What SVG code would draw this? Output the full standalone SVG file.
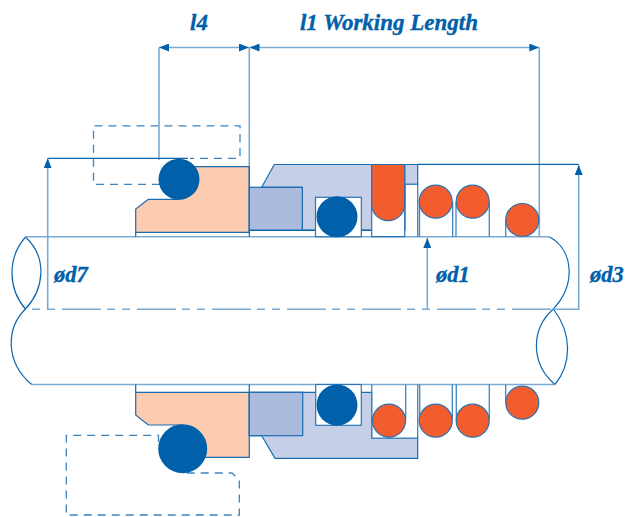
<svg xmlns="http://www.w3.org/2000/svg" width="627" height="517" viewBox="0 0 627 517">
<style>
.d{fill:none;stroke:#0f66ad;stroke-width:1.2}
.l{fill:none;stroke:#7baad3;stroke-width:1.6}
.m{fill:none;stroke:#3f86c0;stroke-width:1.3}
.ds{fill:none;stroke:#3b84c0;stroke-width:1.3;stroke-dasharray:8 6}
.peach{fill:#fdcbb0;stroke:#1a6cb0;stroke-width:1.2}
.mid{fill:#abbbdd;stroke:#1a6cb0;stroke-width:1.2}
.pale{fill:#c5cfe8;stroke:#1a6cb0;stroke-width:1.2}
.or{fill:#f35c2d;stroke:#2f6fae;stroke-width:1.2}
.bl{fill:#0060a9}
.box{fill:#fff;stroke:#2a76b6;stroke-width:1.2}
.t{font-family:"Liberation Serif",serif;font-weight:bold;font-style:italic;fill:#0060a9;stroke:#0060a9;stroke-width:.35}
</style>
<defs>
<marker id="a" viewBox="0 0 10 8" refX="10" refY="4" markerWidth="10" markerHeight="8" markerUnits="userSpaceOnUse" orient="auto-start-reverse"><path d="M0 0L10 4L0 8Z" fill="#0060a9"/></marker>
</defs>
<g id="shaft">
<path class="d" d="M25.5 237C7 258 8 289 25.5 309C44 289 48 258 25.5 237Z"/>
<path class="d" d="M25.5 309C6 328 5 362 31.7 384.5"/>
<path class="d" d="M549.3 236.7C574 250 576 285 553.3 309C530 330 531 364 555 384.5C572 364 572 333 553.3 309"/>
<path class="l" d="M25.5 236.7H549.3M31.7 384.5H555"/>
<path class="l" d="M29 309.3H553" stroke-dasharray="39 6 8 7 8 7" stroke-dashoffset="42"/>
</g>
<g id="dashed-seat-top"><path class="ds" d="M160 184.3H93.5V125.8H240V158.3H190"/></g>
<g id="dashed-seat-bottom"><path class="ds" d="M158.5 442V435.3H66.3V515H239.3V480L232 473H183"/></g>
<g id="seat-top">
<path class="peach" d="M135.7 232.3V209L148.3 199.3H179V166.7H249.3V232.3Z"/>
<path class="d" d="M135.7 232.3V236.7M249.3 166.7V236.7"/>
</g>
<g id="seat-bottom">
<path class="peach" d="M135.7 392.3V415L148.3 425H182V457.3H249.3V392.3Z"/>
<path class="d" d="M135.7 384.5V392.3M249.3 384.5V392.3"/>
</g>
<g id="oring-seat-top"><circle class="bl" cx="179" cy="179.3" r="20.5"/></g>
<g id="oring-seat-bottom"><circle class="bl" cx="182.7" cy="448.7" r="24.5"/></g>
<g id="head-top">
<path class="pale" d="M261.7 187.3L274.3 164.5H417.7V184.3H405V230H302.3V187.3Z"/>
<rect class="mid" x="249.3" y="187.3" width="53" height="43"/>
<path class="d" d="M249.3 230.3H371.7"/>
<rect class="box" x="315.5" y="197.3" width="45.8" height="39.4"/>
<circle class="bl" cx="337" cy="216.7" r="20.5"/>
</g>
<g id="head-bottom">
<path class="pale" d="M261.7 435.7L275 458.3H417.7V438.3H371.7V392.3H249.3V435.7Z"/>
<rect class="mid" x="249.3" y="392.3" width="53.4" height="43.4"/>
<rect class="box" x="315.7" y="384.5" width="45.6" height="40.8"/>
<circle class="bl" cx="337" cy="405" r="20.5"/>
</g>
<g id="face-top">
<path class="box" d="M371.7 165V236.7H404.7V165Z"/>
<path class="or" d="M371.7 164.5H404.7V204.2A16.5 16.5 0 0 1 371.7 204.2Z"/>
<path class="m" d="M405 184.3H417.7V236.7M419.5 200V236.7"/>
</g>
<g id="face-bottom">
<path class="m" d="M371.7 384.5V438.3H417.7V384.5M405.7 384.5V420M419.7 384.5V420"/>
<circle class="or" cx="389" cy="420.7" r="16.5"/>
</g>
<g id="spring-top">
<path class="m" d="M452.7 202V236.7M456 202V236.7M489.3 202V236.7M505.7 220V236.7"/>
<circle class="or" cx="435.7" cy="201.7" r="16.5"/>
<circle class="or" cx="472.7" cy="201.7" r="16.5"/>
</g>
<g id="spring-bottom">
<path class="m" d="M452.3 384.5V420M456.3 384.5V420M489.3 384.5V420M505.7 384.5V402"/>
<circle class="or" cx="435.7" cy="420.7" r="16.5"/>
<circle class="or" cx="472.7" cy="420.7" r="16.5"/>
<circle class="or" cx="522.3" cy="402.7" r="16.5"/>
</g>
<g id="connectors">
<path class="l" d="M159 47.5V160M249.3 47.5V166M539.3 47.5V236.7"/>
<path class="l" d="M159 47.5H249" marker-start="url(#a)" marker-end="url(#a)"/>
<path class="l" d="M249.5 47.5H539.3" marker-start="url(#a)" marker-end="url(#a)"/>
<path class="d" d="M47.7 158.3H188"/>
<path class="l" d="M47.7 309V158.3" marker-end="url(#a)"/>
<path class="l" d="M427.3 309V238" marker-end="url(#a)"/>
<path class="d" d="M417.7 164.3H578.7"/>
<path class="l" d="M553 309.3H578.7V165" marker-end="url(#a)"/>
</g>
<g id="spring-top-last"><circle class="or" cx="522.3" cy="220" r="16.5"/></g>
<g id="labels">
<text class="t" x="199" y="30" font-size="23" text-anchor="middle">l4</text>
<text class="t" x="389" y="30" font-size="23" text-anchor="middle">l1 Working Length</text>
<text class="t" x="54" y="282" font-size="22.5">ød7</text>
<text class="t" x="436" y="282" font-size="22.5">ød1</text>
<text class="t" x="590" y="282" font-size="22.5">ød3</text>
</g>
</svg>
